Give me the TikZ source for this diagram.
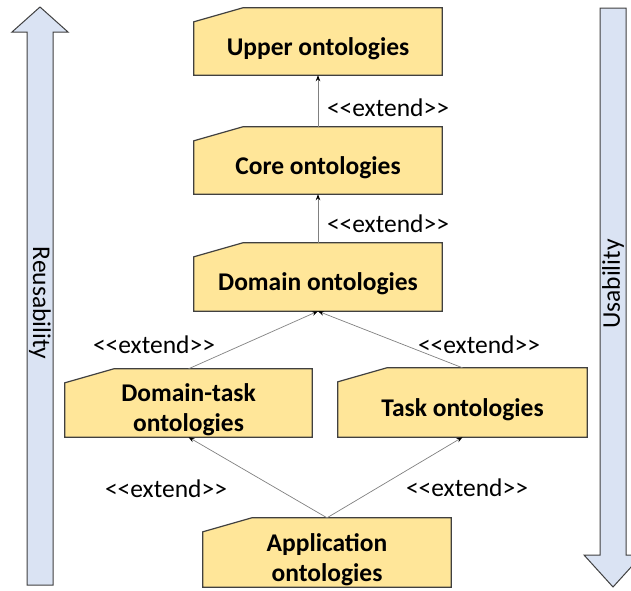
\documentclass[tikz,border=0pt]{standalone}
\usepackage{fontspec}
\setmainfont{Carlito}
\usetikzlibrary{positioning,calc,arrows.meta,backgrounds}
\definecolor{ontofill}{HTML}{FFE699}
\definecolor{barfill}{HTML}{DAE3F3}
\definecolor{edgegray}{HTML}{404040}
\newcommand{\extlabel}{<\kern0pt<extend>\kern0pt>}

\begin{document}
\begin{tikzpicture}[x=1pt,y=-1pt,
    onto/.style={minimum width=248pt,minimum height=54pt,inner sep=0pt,align=center,
      font=\fontsize{25.5}{30}\selectfont\bfseries},
    ext/.style={draw=gray,line width=0.7pt,-{Stealth[length=6pt,width=4.5pt,black]}},
    lbl/.style={font=\fontsize{25.5}{28}\selectfont}]
        \useasboundingbox (0,0) rectangle (631,590);
        % Side arrows
        \draw[edgegray,fill=barfill,line width=1pt] (27,585) -- (27,32) -- (12,32) -- (40,7)
          -- (68,32) -- (53,32) -- (53,585) -- cycle;
        \draw[edgegray,fill=barfill,line width=1pt] (600,8) -- (600,555) -- (584,555) -- (613,587)
          -- (642,555) -- (626,555) -- (626,8) -- cycle;
        \node[lbl,rotate=-90] (reuse) at (40,303) {Reusability};
        \node[lbl,rotate=90] (usab) at (613,284) {Usability};
        % Ontology boxes (node = part below the slanted top)
        \node[onto,minimum height=53pt] (upper) at (318,48.5) {Upper ontologies};
        \node[onto,minimum height=53pt] (core) at (318,167.5) {Core ontologies};
        \node[onto] (domain) at (318,284) {Domain ontologies};
        \node[onto,minimum width=247pt] (dtask) at (188.5,410) {Domain-task\\ontologies};
        \node[onto,minimum width=249pt,minimum height=55pt] (task) at (462.5,409.5) {Task ontologies};
        \node[onto,minimum height=55pt] (app) at (327,559.5) {Application\\ontologies};
        \begin{scope}[on background layer]
          \foreach \n in {upper,core,domain,dtask,task,app}
            \draw[edgegray,fill=ontofill,line width=1.2pt] (\n.south west) -- (\n.north west)
              -- ($(\n.north west)+(49,-14)$) -- ($(\n.north east)+(0,-14)$) -- (\n.south east) -- cycle;
        \end{scope}
        % Extend relations
        \draw[ext] ([yshift=14pt]core.north) -- (upper.south);
        \draw[ext] ([yshift=14pt]domain.north) -- (core.south);
        \draw[ext] ([yshift=14pt]dtask.north) -- (domain.south);
        \draw[ext] ([yshift=14pt]task.north) -- (domain.south);
        \draw[ext] ([yshift=14pt]app.north) -- (dtask.south);
        \draw[ext] ([yshift=14pt]app.north) -- (task.south);
        % Labels
        \node[lbl] (l1) at (388,108) {\extlabel};
        \node[lbl] (l2) at (388,224) {\extlabel};
        \node[lbl] (l3) at (154,345) {\extlabel};
        \node[lbl] (l4) at (479,345) {\extlabel};
        \node[lbl] (l5) at (166,489) {\extlabel};
        \node[lbl] (l6) at (467,488) {\extlabel};
    \end{tikzpicture}
\end{document}
